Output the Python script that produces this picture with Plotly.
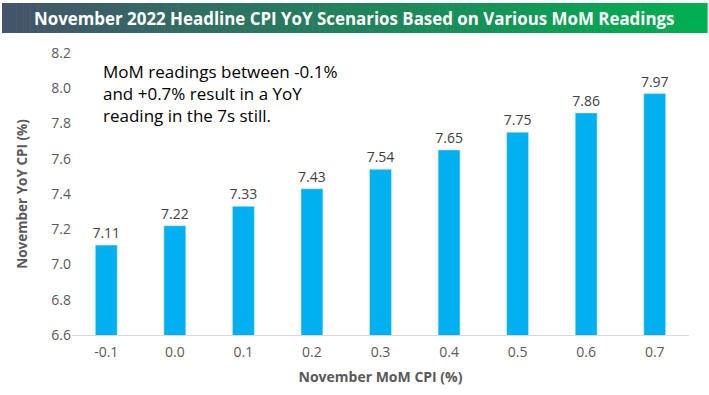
import plotly.graph_objects as go

categories = ["-0.1", "0.0", "0.1", "0.2", "0.3", "0.4", "0.5", "0.6", "0.7"]
yoy_values = [7.11, 7.22, 7.33, 7.43, 7.54, 7.65, 7.75, 7.86, 7.97]
value_labels = ["7.11", "7.22", "7.33", "7.43", "7.54", "7.65", "7.75", "7.86", "7.97"]
y_ticks = [6.6, 6.8, 7.0, 7.2, 7.4, 7.6, 7.8, 8.0, 8.2]

W, H = 709, 395
ML, MR, MT, MB = 72, 20, 53, 60
PW = W - ML - MR
PH = H - MT - MB

def px_x(px):
    return (px - ML) / PW

def px_y(py):
    return (H - MB - py) / PH

FONT = "Open Sans"

fig = go.Figure()
fig.add_trace(go.Bar(
    x=categories, y=yoy_values, marker_color="#00B0F0", width=0.32,
    text=value_labels, textposition="outside", cliponaxis=False,
    constraintext="none",
    textfont=dict(family=FONT, size=14, color="#404040"),
))

# gradient title banner
c0 = (68, 84, 106)
c1 = (0, 176, 80)
n = 100
x_start, x_end = 2, 707
step = (x_end - x_start) / n
shapes = []
for i in range(n):
    t = i / (n - 1)
    col = tuple(round(c0[k] + (c1[k] - c0[k]) * t) for k in range(3))
    shapes.append(dict(
        type="rect", xref="paper", yref="paper",
        x0=px_x(x_start + i * step), x1=px_x(x_start + (i + 1) * step + 0.6),
        y0=px_y(33), y1=px_y(3),
        fillcolor="rgb(%d,%d,%d)" % col, line=dict(width=0), layer="below",
    ))

fig.update_layout(
    width=W, height=H,
    margin=dict(l=ML, r=MR, t=MT, b=MB, autoexpand=False),
    paper_bgcolor="white", plot_bgcolor="white",
    shapes=shapes,
    showlegend=False,
    xaxis=dict(
        type="category", showgrid=False, showline=True, linecolor="#D9D9D9", linewidth=1,
        ticks="", automargin=False, ticklabelstandoff=4,
        tickfont=dict(family=FONT, size=14, color="#595959"),
        title=dict(text="<b>November MoM CPI (%)</b>", standoff=12,
                   font=dict(family=FONT, size=14, color="#595959")),
    ),
    yaxis=dict(
        range=[6.6, 8.2], tickvals=y_ticks, ticktext=["%.1f" % v for v in y_ticks],
        showgrid=False, zeroline=False, showline=False, ticks="", automargin=False,
        tickfont=dict(family=FONT, size=14, color="#595959"),
        title=dict(text="<b>November YoY CPI (%)</b>", standoff=20,
                   font=dict(family=FONT, size=13.5, color="#595959")),
    ),
    annotations=[
        dict(text="<b>November 2022 Headline CPI YoY Scenarios Based on Various MoM Readings</b>",
             xref="paper", yref="paper", x=px_x(354), y=px_y(18), showarrow=False,
             xanchor="center", yanchor="middle",
             font=dict(family=FONT, size=16.9, color="white")),
        dict(text="MoM readings between -0.1%<br>and +0.7% result in a YoY<br>reading in the 7s still.",
             xref="paper", yref="paper", x=px_x(101), y=px_y(58), showarrow=False,
             xanchor="left", yanchor="top", align="left",
             font=dict(family=FONT, size=17, color="black")),
    ],
)

fig.write_html("out.html", config={"displayModeBar": False},
               post_script="document.body.style.margin='0';")
